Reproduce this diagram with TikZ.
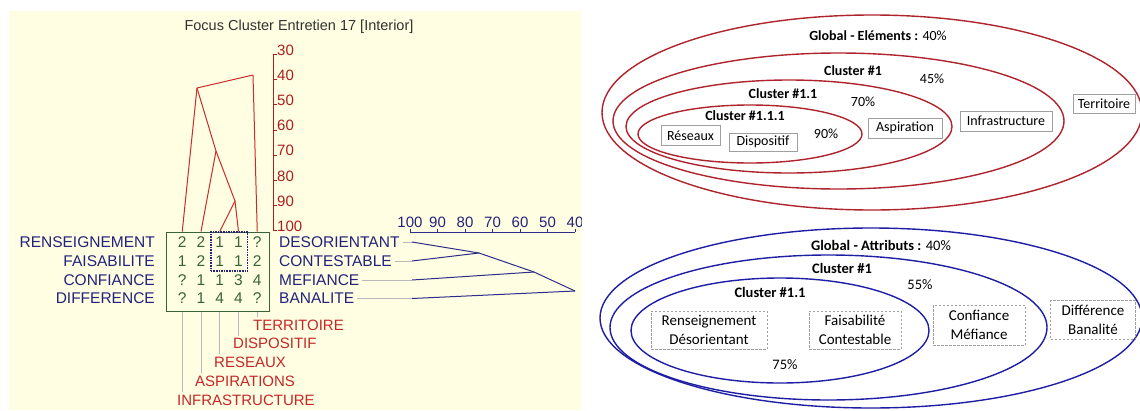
\documentclass[tikz,border=0pt]{standalone}
\usepackage{fontspec}
\setmainfont{Liberation Sans}
\newfontfamily\calfont{Carlito}
\usetikzlibrary{positioning,fit}

\definecolor{panelbg}{RGB}{255,254,226}
\definecolor{titlegray}{RGB}{50,50,50}
\definecolor{rowblue}{RGB}{35,35,125}
\definecolor{treeblue}{RGB}{45,45,140}
\definecolor{cellgreen}{RGB}{55,100,55}
\definecolor{treered}{RGB}{200,45,45}
\definecolor{axisred}{RGB}{170,30,30}
\definecolor{elemred}{RGB}{195,40,40}
\definecolor{ringred}{RGB}{175,35,45}
\definecolor{ringblue}{RGB}{30,30,165}

\newcommand\fsz[1]{\fontsize{#1}{#1}\selectfont}

\tikzset{
  rowlab/.style={font=\fsz{15.5}, text=rowblue, inner sep=0pt},
  cell/.style={font=\fsz{15.5}, text=cellgreen, inner sep=0pt},
  elemlab/.style={font=\fsz{15}, text=elemred, inner sep=0pt, anchor=west},
  scalelab/.style={font=\fsz{15}, inner sep=0pt},
  branch/.style={draw=treered, line width=1pt},
  abranch/.style={draw=treeblue, line width=1pt},
  leafline/.style={draw=gray!55, line width=.6pt},
  ring/.style={line width=1.4pt},
  elembox/.style={draw=gray!75, line width=.7pt, font=\calfont\fsz{14}, inner sep=0pt, minimum height=20pt},
  attrbox/.style={draw=gray!75, line width=.8pt, dash pattern=on 2.5pt off 1.5pt, align=center,
    font=\calfont\fontsize{15}{19}\selectfont, inner sep=0pt, minimum height=38pt},
  ringlab/.style={font=\calfont\fsz{14}, inner sep=0pt},
}

\begin{document}
\begin{tikzpicture}[x=1pt, y=-1pt]
\useasboundingbox (0,0) rectangle (1140,410);
\fill[white] (0,0) rectangle (1140,410);

% left panel: focus grid
\begin{scope}
  \clip (9,11) rectangle (581,410);
  \fill[panelbg] (9,11) rectangle (581,410);
  \node[font=\fsz{14.5}, text=titlegray] (title) at (299,27) {Focus Cluster Entretien 17 [Interior]};

  % vertical scale
  \draw[axisred, line width=1pt] (273,54.5) -- (273,231);
  \foreach \v in {30,40,...,100} {
    \pgfmathsetmacro\yy{50+(\v-30)*2.52}
    \draw[axisred, line width=1pt] (273,\yy+4.5) -- (277,\yy+4.5);
    \node[scalelab, text=axisred, anchor=west] (v\v) at (277,\yy) {\v};
  }

  % horizontal scale
  \draw[treeblue, line width=1pt] (410,232) -- (575,232);
  \foreach \v [count=\k from 0] in {100,90,...,40} {
    \draw[treeblue, line width=1pt] ({410+27.5*\k},232) -- ({410+27.5*\k},228.5);
    \node[scalelab, text=rowblue] (h\v) at ({410+27.5*\k},222) {\v};
  }

  % grid
  \node[draw=cellgreen, line width=1pt, minimum width=103pt, minimum height=79pt] (grid) at (217.5,271.5) {};
  \foreach \r/\y/\vals in {1/242/{2,2,1,1,?},2/261/{1,2,1,1,2},3/280/{?,1,1,3,4},4/298.5/{?,1,4,4,?}} {
    \foreach \v [count=\c] in \vals {
      \node[cell] (m\r\c) at ({163.5+18.75*\c},\y) {\v};
    }
  }
  \node[draw=rowblue, line width=1.6pt, densely dotted, inner sep=4.5pt, fit=(m13)(m24)] (focus) {};

  \foreach \c in {1,...,5} {
    \coordinate (top\c) at ({163.5+18.75*\c},231.5);
    \coordinate (bot\c) at ({163.5+18.75*\c},311.5);
  }

  % row labels
  \node[rowlab, anchor=east] (lRen) at (155,242) {RENSEIGNEMENT};
  \node[rowlab, anchor=east] (lFai) at (155,261) {FAISABILITE};
  \node[rowlab, anchor=east] (lCon) at (155,280) {CONFIANCE};
  \node[rowlab, anchor=east] (lDif) at (155,298.5) {DIFFERENCE};
  \node[rowlab, anchor=west] (rDes) at (279,242) {DESORIENTANT};
  \node[rowlab, anchor=west] (rCon) at (279,261) {CONTESTABLE};
  \node[rowlab, anchor=west] (rMef) at (279,280) {MEFIANCE};
  \node[rowlab, anchor=west] (rBan) at (279,298.5) {BANALITE};

  % element labels
  \node[elemlab] (eTer) at (253,325) {TERRITOIRE};
  \node[elemlab] (eDis) at (233,343.5) {DISPOSITIF};
  \node[elemlab] (eRes) at (214,362) {RESEAUX};
  \node[elemlab] (eAsp) at (195,381) {ASPIRATIONS};
  \node[elemlab] (eInf) at (177,400) {INFRASTRUCTURE};
  \draw[leafline, shorten >=2pt] (bot5) -- (bot5 |- eTer.north);
  \draw[leafline, shorten >=2pt] (bot4) -- (bot4 |- eDis.north);
  \draw[leafline, shorten >=2pt] (bot3) -- (bot3 |- eRes.north);
  \draw[leafline, shorten >=2pt] (bot2) -- (bot2 |- eAsp.north);
  \draw[leafline, shorten >=2pt] (bot1) -- (bot1 |- eInf.north);

  % element tree
  \coordinate (j90) at (235,201);
  \coordinate (j70) at (216,151);
  \coordinate (j45) at (197,88);
  \coordinate (j40) at (253,75);
  \path[branch] (j90) -- (top3);
  \path[branch] (j90) -- (top4);
  \path[branch] (j70) -- (top2);
  \path[branch] (j70) -- (j90);
  \path[branch] (j45) -- (top1);
  \path[branch] (j45) -- (j70);
  \path[branch] (j40) -- (j45);
  \path[branch] (j40) -- (top5);

  % attribute tree
  \coordinate (s1) at (412,242);
  \coordinate (s2) at (412,261);
  \coordinate (s3) at (412,280);
  \coordinate (s4) at (412,298.5);
  \coordinate (k75) at (479,253);
  \coordinate (k55) at (534,272);
  \coordinate (k40) at (575,291);
  \draw[leafline, shorten <=3pt] (rDes.east) -- (s1);
  \draw[leafline, shorten <=3pt] (rCon.east) -- (s2);
  \draw[leafline, shorten <=3pt] (rMef.east) -- (s3);
  \draw[leafline, shorten <=3pt] (rBan.east) -- (s4);
  \path[abranch] (s1) -- (k75);
  \path[abranch] (s2) -- (k75);
  \path[abranch] (k75) -- (k55);
  \path[abranch] (s3) -- (k55);
  \path[abranch] (k55) -- (k40);
  \path[abranch] (s4) -- (k40);
\end{scope}

% right panel: element clusters
\draw[ringred, ring] (872,112.5) ellipse [x radius=270pt, y radius=97.5pt];
\draw[ringred, ring] (838.5,121) ellipse [x radius=225.5pt, y radius=68pt];
\draw[ringred, ring] (789,126.5) ellipse [x radius=163pt, y radius=46.5pt];
\draw[ringred, ring] (750,134) ellipse [x radius=112pt, y radius=29pt];
\node[ringlab] (gElem) at (878,36) {\textbf{Global - Eléments :} 40\%};
\node[ringlab] (cElem1) at (853,71) {\textbf{Cluster \#1}};
\node[ringlab] (pElem1) at (932,79) {45\%};
\node[ringlab] (cElem11) at (783,94) {\textbf{Cluster \#1.1}};
\node[ringlab] (pElem11) at (863,102) {70\%};
\node[ringlab] (cElem111) at (745,116) {\textbf{Cluster \#1.1.1}};
\node[ringlab] (pElem111) at (826,134) {90\%};
\node[elembox, minimum width=59pt] (bRes) at (690.5,135.5) {Réseaux};
\node[elembox, minimum width=68pt, minimum height=18pt] (bDis) at (763,142) {Dispositif};
\node[elembox, minimum width=74pt] (bAsp) at (905,128) {Aspiration};
\node[elembox, minimum width=92pt] (bInf) at (1006,121) {Infrastructure};
\node[elembox, minimum width=62pt, minimum height=19pt] (bTer) at (1104,103.5) {Territoire};

% right panel: attribute clusters
\draw[ringblue, ring] (871,318) ellipse [x radius=271pt, y radius=90pt];
\draw[ringblue, ring] (828.5,327.5) ellipse [x radius=218.5pt, y radius=72.5pt];
\draw[ringblue, ring] (780,330.5) ellipse [x radius=149pt, y radius=52.5pt];
\node[ringlab, font=\calfont\fsz{14.5}] (gAttr) at (881,245) {\textbf{Global - Attributs :} 40\%};
\node[ringlab, font=\calfont\fsz{14.5}] (cAttr1) at (842,268) {\textbf{Cluster \#1}};
\node[ringlab, font=\calfont\fsz{14.5}] (pAttr1) at (920,285) {55\%};
\node[ringlab, font=\calfont\fsz{14.5}] (cAttr11) at (770,292) {\textbf{Cluster \#1.1}};
\node[ringlab, font=\calfont\fsz{14.5}] (pAttr11) at (785,365) {75\%};
\node[attrbox, minimum width=116pt] (bRen) at (709,330) {Renseignement\\Désorientant};
\node[attrbox, minimum width=92pt] (bFai) at (855,330) {Faisabilité\\Contestable};
\node[attrbox, minimum width=92pt, minimum height=40pt] (bCon) at (979,325) {Confiance\\Méfiance};
\node[attrbox, minimum width=85pt, minimum height=39pt] (bDif) at (1093,320) {Différence\\Banalité};
\end{tikzpicture}
\end{document}
